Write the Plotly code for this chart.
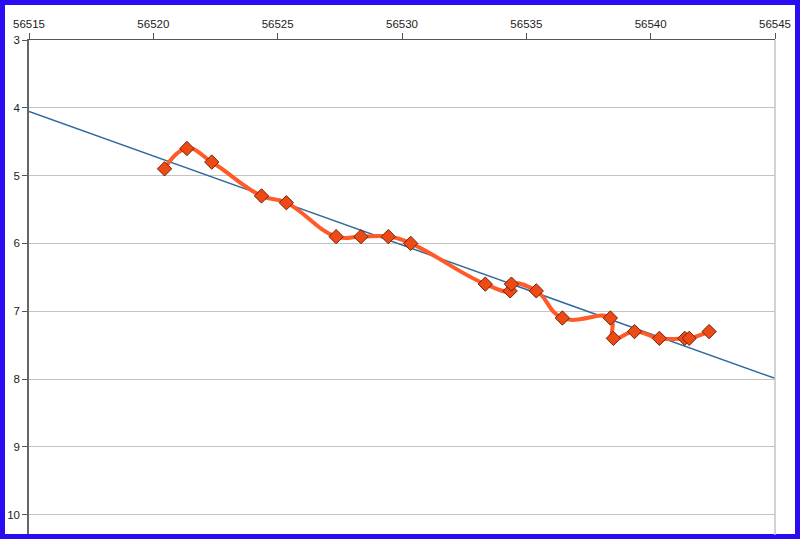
"""Light curve: smoothed magnitude series with a linear trend, reversed y axis."""
import numpy as np
import plotly.graph_objects as go

mjd = [56520.45, 56521.35, 56522.35, 56524.35, 56525.35, 56527.35, 56528.35,
       56529.45, 56530.35, 56533.35, 56534.35, 56534.40, 56535.40, 56536.45,
       56538.38, 56538.50, 56539.35, 56540.35, 56541.37, 56541.55, 56542.35]
mag = [4.9, 4.6, 4.8, 5.3, 5.4, 5.9, 5.9,
       5.9, 6.0, 6.6, 6.7, 6.6, 6.7, 7.1,
       7.1, 7.4, 7.3, 7.4, 7.4, 7.4, 7.3]

x_range = [56515, 56545]
x_ticks = [56515, 56520, 56525, 56530, 56535, 56540, 56545]
y_ticks = [3, 4, 5, 6, 7, 8, 9, 10]

# linear trend over the full axis span
slope, icpt = np.polyfit(mjd, mag, 1)
trend_x = np.array(x_range, dtype=float)
trend_y = slope * trend_x + icpt

W, H = 800, 539
ml, mr, mt, mb = 29, 25, 40, 4

fig = go.Figure()
fig.add_trace(go.Scatter(
    x=trend_x, y=trend_y, mode="lines", name="trend",
    line=dict(color="#2f6a9e", width=1.5), hoverinfo="skip",
))
fig.add_trace(go.Scatter(
    x=mjd, y=mag, mode="lines+markers", name="mag",
    line=dict(color="#ff5a28", width=4, shape="spline", smoothing=1.3),
    marker=dict(symbol="diamond", size=11, color="#f04a14",
                line=dict(color="#6a2410", width=1)),
))

# blue frame round the whole picture (paper coords extended into margins)
pw, ph = W - ml - mr, H - mt - mb
bw = 5
fig.add_shape(
    type="rect", xref="paper", yref="paper", layer="above",
    x0=(-ml + bw / 2) / pw, x1=1 + (mr - bw / 2) / pw,
    y0=(-mb + bw / 2) / ph, y1=1 + (mt - bw / 2) / ph,
    line=dict(color="#2a0cf2", width=bw), fillcolor="rgba(0,0,0,0)",
)
# light right-hand edge of the plot area
fig.add_shape(
    type="line", xref="paper", yref="paper", x0=1, x1=1, y0=0, y1=1,
    line=dict(color="#c4c4c4", width=1.5),
)

fig.update_layout(
    width=W, height=H,
    margin=dict(l=ml, r=mr, t=mt, b=mb),
    paper_bgcolor="white", plot_bgcolor="white",
    showlegend=False,
    font=dict(family="Liberation Sans, Arial, sans-serif", size=11.5, color="#222"),
    xaxis=dict(
        side="top", range=x_range, tickvals=x_ticks, tickformat="d",
        showgrid=False, zeroline=False,
        showline=True, linecolor="#555", linewidth=1,
        ticks="outside", ticklen=6, tickcolor="#555",
    ),
    yaxis=dict(
        range=[10.3, 3], tickvals=y_ticks,
        showgrid=True, gridcolor="#c4c4c4", gridwidth=1,
        zeroline=False,
        showline=True, linecolor="#666", linewidth=1.5,
        ticks="outside", ticklen=5, tickcolor="#555",
    ),
)

# the page's default 8px body margin would push the figure off-frame
fig.write_html(
    "out.html",
    config={"displayModeBar": False},
    post_script="document.body.style.margin='0';",
)
